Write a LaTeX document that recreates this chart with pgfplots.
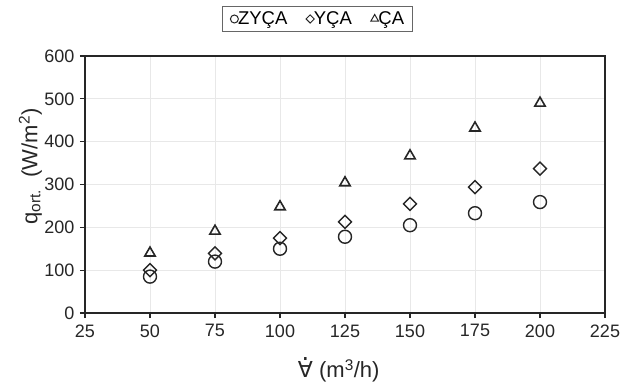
\documentclass[border=0pt]{standalone}
\usepackage{pgfplots}
\pgfplotsset{compat=1.18}
\usepackage{fontspec}
\setmainfont{Liberation Sans}
\newfontfamily\dejavu{DejaVu Sans}
\newcommand{\vdotsym}{{\dejavu\ooalign{∀\cr\hidewidth\raisebox{0.78em}{\fontsize{24}{24}\selectfont .}\hidewidth\cr}}}
\begin{document}
\begin{tikzpicture}[x=1pt,y=1pt]
\path[use as bounding box] (0,0) rectangle (622,389);
\begin{axis}[
  at={(85pt,76pt)}, anchor=south west,
  scale only axis, width=520pt, height=257pt,
  xmin=25, xmax=225, ymin=0, ymax=600,
  xtick={25,50,...,225}, ytick={0,100,...,600},
  tick align=outside, tick pos=left,
  major tick length=5pt,
  axis line style={line width=1.3pt, black!85},
  every tick/.style={line width=1.2pt, black!85},
  grid=major,
  major grid style={line width=1pt, black!9},
  /pgf/number format/assume math mode=true,
  tick label style={font=\fontsize{18}{21}\selectfont, text=black!85},
  yticklabel style={xshift=-2pt},
  xticklabel style={yshift=-3pt},
  label style={font=\fontsize{22}{24}\selectfont, text=black!85},
  ylabel={q\textsubscript{ort.}\ \ (W/m\textsuperscript{2})},
  ylabel style={at={(axis description cs:-0.105,0.57)}, anchor=center, rotate=0},
  xlabel={\vdotsym\ (m\textsuperscript{3}/h)},
  xlabel style={at={(axis description cs:0.488,-0.225)}, anchor=center},
  legend columns=3,
  legend style={at={(axis description cs:0.447,1.144)}, anchor=center,
    draw=black!60, line width=0.9pt, font=\fontsize{18.5}{21}\selectfont,
    inner xsep=6pt, inner ysep=3pt,
    /tikz/every even column/.append style={column sep=15pt}},
  legend image code/.code={\path (0pt,0pt) (9pt,0pt); \draw[line width=1pt] plot coordinates {(5pt,0pt)};},
]
\addplot[only marks, mark=o, mark size=6.5pt, line width=1.4pt, black!85,
  every legend image post/.style={mark size=4pt}] coordinates {
(50,85) (75,120) (100,150) (125,178) (150,205) (175,233) (200,259)};
\addlegendentry{\hspace{-3pt}ZYÇA}
\addplot[only marks, mark=square, mark options={rotate=45}, mark size=4.6pt, line width=1.4pt, black!85,
  every legend image post/.style={mark size=2.9pt}] coordinates {
(50,100) (75,139) (100,175) (125,213) (150,255) (175,294) (200,337)};
\addlegendentry{\hspace{-3pt}YÇA}
\addplot[only marks, mark=triangle, mark size=6pt, line width=1.6pt, black!85,
  every legend image post/.style={mark size=4.5pt}] coordinates {
(50,140) (75,191) (100,248) (125,304) (150,367) (175,432) (200,490)};
\addlegendentry{\hspace{-3pt}ÇA}
\end{axis}
\end{tikzpicture}
\end{document}
